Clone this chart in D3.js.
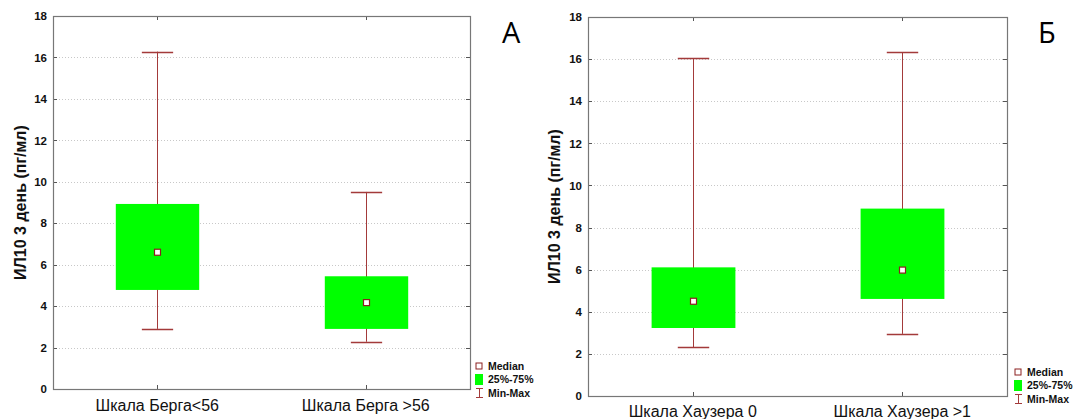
<!DOCTYPE html>
<html>
<head>
<meta charset="utf-8">
<script src="https://cdn.jsdelivr.net/npm/d3@7/dist/d3.min.js"></script>
<style>
  html, body { margin: 0; padding: 0; background: #fff; }
  svg { display: block; }
  .tick-label { font-family: "Liberation Sans", Arial, sans-serif; font-weight: bold; font-size: 11.5px; fill: #111; }
  .cat-label { font-family: "Liberation Sans", Arial, sans-serif; font-size: 16px; fill: #111; }
  .y-title { font-family: "Liberation Sans", Arial, sans-serif; font-weight: bold; font-size: 16px; fill: #111; }
  .legend-text { font-family: "Liberation Sans Narrow", "Liberation Sans", Arial, sans-serif; font-weight: bold; font-size: 10.5px; fill: #111; }
  .panel-letter { font-family: "Open Sans", "Noto Sans", sans-serif; font-size: 29px; fill: #000; }
</style>
</head>
<body>
<svg id="chart" width="1073" height="419"></svg>
<script>
// Shared y-axis ticks (pg/ml)
const yTicks = [0, 2, 4, 6, 8, 10, 12, 14, 16, 18];

// Panel А: Berg balance scale groups
const groupsA = ["Шкала Берга<56", "Шкала Берга >56"];
const minA    = [2.90, 2.28];
const q1A     = [4.78, 2.90];
const medA    = [6.60, 4.17];
const q3A     = [8.93, 5.44];
const maxA    = [16.28, 9.51];

// Panel Б: Hauser scale groups
const groupsB = ["Шкала Хаузера 0", "Шкала Хаузера >1"];
const minB    = [2.32, 2.95];
const q1B     = [3.23, 4.61];
const medB    = [4.50, 5.98];
const q3B     = [6.11, 8.90];
const maxB    = [16.05, 16.32];

const yTitle = "ИЛ10 3 день (пг/мл)";
const legendItems = ["Median", "25%-75%", "Min-Max"];

const whiskerColor = "#a33a3a";
const boxColor = "#00ff00";

const svg = d3.select("#chart");

function drawPanel(cfg) {
  const { groups, mins, q1s, meds, q3s, maxs, left, right, top, bottom, letter, letterX, titleX, legendX, legendY, catDy } = cfg;
  const g = svg.append("g");

  const x = d3.scaleBand().domain(groups).range([left, right]).paddingInner(0).paddingOuter(0);
  const y = d3.scaleLinear().domain([0, 18]).range([bottom, top]);

  // dotted grid lines
  g.selectAll("line.grid").data(yTicks.filter(t => t > 0 && t < 18)).enter()
    .append("line")
    .attr("x1", left).attr("x2", right)
    .attr("y1", d => Math.round(y(d)) + 0.5).attr("y2", d => Math.round(y(d)) + 0.5)
    .attr("stroke", "#c8c8c8").attr("stroke-width", 1).attr("stroke-dasharray", "1,2");

  // left axis labels
  const yAxis = d3.axisLeft(y).tickValues(yTicks).tickSize(0).tickPadding(6).tickFormat(d3.format("d"));
  const ya = g.append("g").attr("transform", `translate(${left},0)`).call(yAxis);
  ya.select(".domain").remove();
  ya.selectAll("text").attr("class", "tick-label").attr("fill", null);

  // inner ticks on left and right frame edges
  g.selectAll("line.ltick").data(yTicks).enter().append("line")
    .attr("x1", left).attr("x2", left + 4)
    .attr("y1", d => Math.round(y(d)) + 0.5).attr("y2", d => Math.round(y(d)) + 0.5)
    .attr("stroke", "#555");
  g.selectAll("line.rtick").data(yTicks).enter().append("line")
    .attr("x1", right - 4).attr("x2", right)
    .attr("y1", d => Math.round(y(d)) + 0.5).attr("y2", d => Math.round(y(d)) + 0.5)
    .attr("stroke", "#555");

  // category ticks and labels on the bottom, ticks on the top
  const xAxis = d3.axisBottom(x).tickSize(0).tickPadding(7);
  const xa = g.append("g").attr("transform", `translate(0,${bottom})`).call(xAxis);
  xa.select(".domain").remove();
  xa.selectAll("text").attr("class", "cat-label").attr("fill", null).attr("dy", catDy);
  groups.forEach(gr => {
    const cx = Math.round(x(gr) + x.bandwidth() / 2) + 0.5;
    g.append("line").attr("x1", cx).attr("x2", cx).attr("y1", bottom - 4).attr("y2", bottom).attr("stroke", "#555");
    g.append("line").attr("x1", cx).attr("x2", cx).attr("y1", top).attr("y2", top + 4).attr("stroke", "#555");
  });

  // frame
  g.append("rect")
    .attr("x", left + 0.5).attr("y", top + 0.5)
    .attr("width", right - left).attr("height", bottom - top)
    .attr("fill", "none").attr("stroke", "#777").attr("stroke-width", 1.2);

  // box plots
  const bw = x.bandwidth();
  groups.forEach((gr, i) => {
    const cx = Math.round(x(gr) + bw / 2) + 0.5;
    const capHalf = bw * 0.075;
    const boxHalf = bw * 0.2;
    // whisker stem
    g.append("line").attr("x1", cx).attr("x2", cx)
      .attr("y1", y(maxs[i])).attr("y2", y(mins[i]))
      .attr("stroke", whiskerColor).attr("stroke-width", 1);
    // caps
    [mins[i], maxs[i]].forEach(v => {
      g.append("line").attr("x1", cx - capHalf).attr("x2", cx + capHalf)
        .attr("y1", Math.round(y(v)) + 0.5).attr("y2", Math.round(y(v)) + 0.5)
        .attr("stroke", whiskerColor).attr("stroke-width", 1.3);
    });
    // interquartile box
    g.append("rect")
      .attr("x", cx - boxHalf).attr("width", boxHalf * 2)
      .attr("y", y(q3s[i])).attr("height", y(q1s[i]) - y(q3s[i]))
      .attr("fill", boxColor);
    // median marker
    g.append("rect")
      .attr("x", cx - 3).attr("y", y(meds[i]) - 3)
      .attr("width", 6).attr("height", 6)
      .attr("fill", "#fff").attr("stroke", "#8b2020").attr("stroke-width", 1.2);
  });

  // y title
  g.append("text").attr("class", "y-title")
    .attr("transform", `translate(${titleX},${(top + bottom) / 2}) rotate(-90)`)
    .attr("text-anchor", "middle").text(yTitle);

  // panel letter
  g.append("text").attr("class", "panel-letter")
    .attr("x", letterX).attr("y", 43).text(letter);

  // legend
  const lg = g.append("g").attr("transform", `translate(${legendX},${legendY})`);
  lg.append("rect").attr("x", -3).attr("y", -3).attr("width", 6).attr("height", 6)
    .attr("fill", "#fff").attr("stroke", "#8b2020").attr("stroke-width", 1);
  lg.append("rect").attr("x", -4).attr("y", 8).attr("width", 8).attr("height", 11).attr("fill", boxColor);
  lg.append("line").attr("x1", 0.5).attr("x2", 0.5).attr("y1", 22).attr("y2", 32).attr("stroke", whiskerColor);
  lg.append("line").attr("x1", -3).attr("x2", 4).attr("y1", 22.5).attr("y2", 22.5).attr("stroke", whiskerColor);
  lg.append("line").attr("x1", -3).attr("x2", 4).attr("y1", 31.5).attr("y2", 31.5).attr("stroke", whiskerColor);
  legendItems.forEach((t, k) => {
    lg.append("text").attr("class", "legend-text")
      .attr("x", 9).attr("y", [4, 17, 31][k]).text(t);
  });
}

drawPanel({
  groups: groupsA, mins: minA, q1s: q1A, meds: medA, q3s: q3A, maxs: maxA,
  left: 53, right: 470, top: 16, bottom: 389,
  letter: "А", letterX: 502, titleX: 26, legendX: 479, legendY: 366, catDy: "0.95em"
});

drawPanel({
  groups: groupsB, mins: minB, q1s: q1B, meds: medB, q3s: q3B, maxs: maxB,
  left: 588, right: 1007, top: 17, bottom: 396,
  letter: "Б", letterX: 1038, titleX: 560, legendX: 1018, legendY: 372, catDy: "0.85em"
});
</script>
</body>
</html>
